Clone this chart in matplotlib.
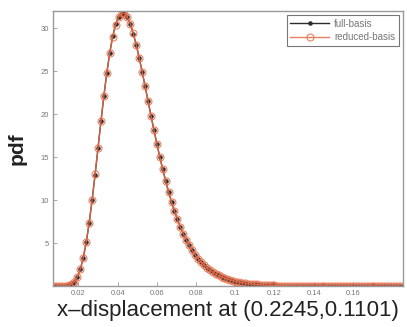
import matplotlib
matplotlib.use("Agg")
import matplotlib.pyplot as plt

plt.rcParams['font.family'] = ['Liberation Sans', 'DejaVu Sans']

# displacement grid and pdf estimates
x_disp = [0.0075, 0.0090, 0.0105, 0.0120, 0.0135, 0.0150, 0.0165, 0.0180, 0.0195, 0.0210,
          0.0225, 0.0240, 0.0255, 0.0270, 0.0285, 0.0300, 0.0315, 0.0330, 0.0345, 0.0360,
          0.0375, 0.0390, 0.0405, 0.0420, 0.0435, 0.0450, 0.0465, 0.0480, 0.0495, 0.0510,
          0.0525, 0.0540, 0.0555, 0.0570, 0.0585, 0.0600, 0.0615, 0.0630, 0.0645, 0.0660,
          0.0675, 0.0690, 0.0705, 0.0720, 0.0735, 0.0750, 0.0765, 0.0780, 0.0795, 0.0810,
          0.0825, 0.0840, 0.0855, 0.0870, 0.0885, 0.0900, 0.0915, 0.0930, 0.0945, 0.0960,
          0.0975, 0.0990, 0.1005, 0.1020, 0.1035, 0.1050, 0.1065, 0.1080, 0.1095, 0.1110,
          0.1125, 0.1140, 0.1155, 0.1170, 0.1185, 0.1200, 0.1215, 0.1230, 0.1245, 0.1260,
          0.1275, 0.1290, 0.1305, 0.1320, 0.1335, 0.1350, 0.1365, 0.1380, 0.1395, 0.1410,
          0.1425, 0.1440, 0.1455, 0.1470, 0.1485, 0.1500, 0.1515, 0.1530, 0.1545, 0.1560,
          0.1575, 0.1590, 0.1605, 0.1620, 0.1635, 0.1650, 0.1665, 0.1680, 0.1695, 0.1710,
          0.1725, 0.1740, 0.1755, 0.1770, 0.1785, 0.1800, 0.1815, 0.1830, 0.1845]

pdf_full = [0.000, 0.000, 0.001, 0.004, 0.021, 0.075, 0.215, 0.515, 1.07, 1.97,
            3.31, 5.11, 7.36, 10.01, 12.96, 16.06, 19.17, 22.13, 24.84, 27.16,
            29.05, 30.45, 31.35, 31.76, 31.72, 31.27, 30.47, 29.38, 28.06, 26.57,
            24.95, 23.27, 21.56, 19.85, 18.19, 16.58, 15.04, 13.59, 12.23, 10.96,
            9.80, 8.74, 7.77, 6.89, 6.09, 5.38, 4.74, 4.17, 3.66, 3.21,
            2.81, 2.46, 2.15, 1.87, 1.63, 1.42, 1.24, 1.08, 0.935, 0.813,
            0.705, 0.612, 0.531, 0.460, 0.399, 0.346, 0.300, 0.260, 0.225, 0.195,
            0.169, 0.146, 0.127, 0.110, 0.095, 0.082, 0.071, 0.062, 0.053, 0.046,
            0.040, 0.035, 0.030, 0.026, 0.022, 0.019, 0.016, 0.014, 0.012, 0.010,
            0.009, 0.008, 0.007, 0.006, 0.005, 0.005, 0.004, 0.004, 0.003, 0.003,
            0.002, 0.002, 0.002, 0.002, 0.001, 0.001, 0.001, 0.001, 0.001, 0.001,
            0.001, 0.000, 0.000, 0.000, 0.000, 0.000, 0.000, 0.000, 0.000]

pdf_reduced = [0.000, 0.000, 0.001, 0.005, 0.022, 0.077, 0.220, 0.522, 1.08, 1.99,
               3.33, 5.14, 7.40, 10.05, 13.00, 16.10, 19.20, 22.15, 24.85, 27.15,
               29.03, 30.43, 31.33, 31.75, 31.72, 31.28, 30.49, 29.40, 28.08, 26.59,
               24.97, 23.28, 21.57, 19.85, 18.18, 16.57, 15.03, 13.58, 12.22, 10.95,
               9.79, 8.73, 7.77, 6.89, 6.09, 5.38, 4.74, 4.17, 3.66, 3.21,
               2.81, 2.46, 2.15, 1.87, 1.63, 1.42, 1.24, 1.08, 0.936, 0.814,
               0.706, 0.613, 0.532, 0.461, 0.400, 0.347, 0.301, 0.261, 0.226, 0.196,
               0.170, 0.147, 0.128, 0.111, 0.096, 0.083, 0.072, 0.062, 0.054, 0.047,
               0.041, 0.035, 0.030, 0.026, 0.022, 0.019, 0.016, 0.014, 0.012, 0.010,
               0.009, 0.008, 0.007, 0.006, 0.005, 0.005, 0.004, 0.004, 0.003, 0.003,
               0.002, 0.002, 0.002, 0.002, 0.001, 0.001, 0.001, 0.001, 0.001, 0.001,
               0.001, 0.000, 0.000, 0.000, 0.000, 0.000, 0.000, 0.000, 0.000]

x_ticks = [0.02, 0.04, 0.06, 0.08, 0.1, 0.12, 0.14, 0.16]
x_tick_labels = ['0.02', '0.04', '0.06', '0.08', '0.1', '0.12', '0.14', '0.16']
y_ticks = [5, 10, 15, 20, 25, 30]

fig = plt.figure(figsize=(4.07, 3.27), dpi=100)
ax = fig.add_axes([0.130, 0.125, 0.860, 0.841])

# black dots first, open orange circles on top
ax.plot(x_disp, pdf_full, color='#2b2b2b', lw=1.0, marker='.', ms=4.5,
        label='full-basis')
ax.plot(x_disp, pdf_reduced, color='#ec6a45', lw=1.0, marker='o', ms=5,
        mfc='none', mew=0.8, alpha=0.85, label='reduced-basis')

ax.set_xlim(0.007, 0.1855)
ax.set_ylim(0, 32)
ax.set_xticks(x_ticks)
ax.set_xticklabels(x_tick_labels)
ax.set_yticks(y_ticks)

ax.tick_params(direction='in', length=3, width=0.6, labelsize=5.5,
               labelcolor='#777777', color='#999999', pad=3)
for sp in ax.spines.values():
    sp.set_color('#999999')
    sp.set_linewidth(1.0)

ax.set_xlabel('x\u2013displacement at (0.2245,0.1101)', fontsize=16,
              color='#222222', labelpad=2)
ax.set_ylabel('pdf', fontsize=15, fontweight='bold', color='#222222',
              labelpad=10)

leg = ax.legend(loc='upper right', fontsize=7, frameon=True, fancybox=False,
                handlelength=4, handletextpad=0.5, borderpad=0.35,
                labelspacing=0.35, borderaxespad=0.45, labelcolor='#777777')
leg.get_frame().set_edgecolor('#555555')
leg.get_frame().set_linewidth(0.8)

fig.savefig('out.png', dpi=100)
